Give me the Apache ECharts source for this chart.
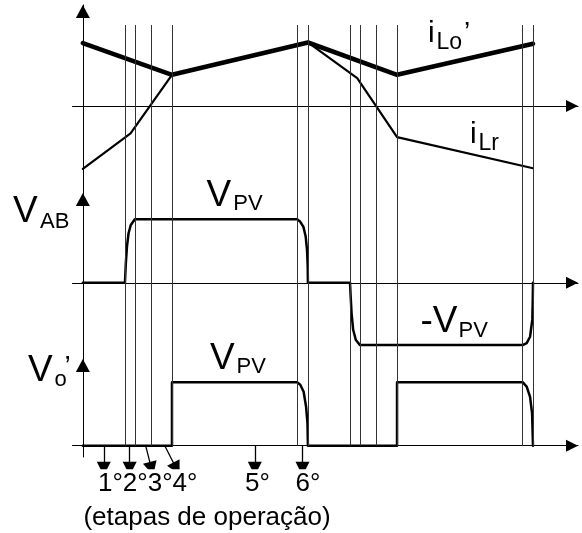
<!DOCTYPE html>
<html>
<head>
<meta charset="utf-8">
<script src="https://cdn.jsdelivr.net/npm/echarts@6/dist/echarts.min.js"></script>
<style>
  html, body { margin: 0; background: #fff; }
  #main { width: 582px; height: 533px; }
</style>
</head>
<body>
<div id="main"></div>
<script>
  // time in arbitrary units: 0 = origin, half switching period = 10
  var switchTimes = [1.87, 2.31, 3.05, 3.96, 9.54, 10.0, 11.87, 12.34, 13.04, 13.96, 19.54, 20.0];

  // currents (normalised)
  var iLo = [[0, 0.99], [3.96, 0.49], [10.0, 1.0], [13.96, 0.49], [20.0, 0.98]];
  var iLr = [[0, -0.99], [2.12, -0.43], [3.96, 0.49], [10.0, 1.0], [12.19, 0.44], [13.96, -0.49], [20.0, -0.98]];

  // V_AB (normalised to V_PV)
  var vAB = [
    [0, 0], [1.87, 0], [1.91, 0.31], [1.96, 0.57], [2.03, 0.78], [2.13, 0.91], [2.31, 1.0],
    [9.52, 1.0], [9.66, 0.96], [9.8, 0.88], [9.9, 0.73], [9.96, 0.52], [9.99, 0.26], [10.0, 0],
    [11.87, 0], [11.9, -0.22], [11.94, -0.48], [12.01, -0.74], [12.13, -0.9], [12.31, -0.98],
    [19.54, -0.98], [19.72, -0.95], [19.87, -0.85], [19.97, -0.58], [19.99, -0.27], [20.0, 0]
  ];

  // V_o' (normalised to V_PV)
  var vO = [
    [0, 0], [3.96, 0], [3.96, 1.0], [9.52, 1.0], [9.66, 0.96], [9.81, 0.85], [9.92, 0.61], [9.98, 0.35], [10.0, 0],
    [13.96, 0], [13.96, 1.0], [19.54, 1.0], [19.72, 0.93], [19.87, 0.77], [19.96, 0.51], [20.0, 0]
  ];

  // operation stage pointers
  var stageFrom = [0.93, 2.08, 2.79, 3.64, 7.64, 9.76];
  var stageTo = [0.93, 2.08, 3.05, 4.16, 7.64, 9.76];

  var X_MIN = -0.46, X_MAX = 22.0;
  var FONT = '"Liberation Sans", Arial, sans-serif';
  var axisStyle = {color: '#000', width: 1};

  function xAx(i, show) {
    return {
      gridIndex: i, type: 'value', min: X_MIN, max: X_MAX, show: show,
      axisLine: {onZero: true, symbol: ['none', 'triangle'], symbolSize: [12, 12], symbolOffset: [0, -6], lineStyle: axisStyle},
      axisTick: {show: false}, axisLabel: {show: false}, splitLine: {show: false}
    };
  }
  function yAx(i, min, max, show) {
    return {
      gridIndex: i, type: 'value', min: min, max: max, show: show,
      axisLine: {onZero: true, symbol: ['none', 'triangle'], symbolSize: [14, 13], symbolOffset: [0, -6.5], lineStyle: axisStyle},
      axisTick: {show: false}, axisLabel: {show: false}, splitLine: {show: false}
    };
  }
  function wave(i, data, width, z) {
    return {
      type: 'line', xAxisIndex: i, yAxisIndex: i, data: data, symbol: 'none', silent: true, z: z,
      lineStyle: {color: '#000', width: width, cap: 'round', join: 'round'}
    };
  }
  function txt(x, y, s, size, align) {
    return {
      type: 'text', x: x, y: y, silent: true,
      style: {text: s, font: size + 'px ' + FONT, fill: '#000', align: align || 'left', verticalAlign: 'middle'}
    };
  }

  var chart = echarts.init(document.getElementById('main'));
  chart.setOption({
    animation: false,
    backgroundColor: '#fff',
    grid: [
      {left: 72.5, width: 505.5, top: 5, height: 190},
      {left: 72.5, width: 505.5, top: 193, height: 166},
      {left: 72.5, width: 505.5, top: 359, height: 98},
      {left: 72.5, width: 505.5, top: 25, height: 420.7},
      {left: 72.5, width: 505.5, top: 445.7, height: 23}
    ],
    xAxis: [xAx(0, true), xAx(1, true), xAx(2, true), xAx(3, false), xAx(4, false)],
    yAxis: [
      yAx(0, -1.402, 1.59, true),
      yAx(1, -1.2, 1.414, true),
      yAx(2, -0.178, 1.365, true),
      yAx(3, 0, 1, false),
      yAx(4, 0, 1, false)
    ],
    series: [
      {
        type: 'line', xAxisIndex: 3, yAxisIndex: 3, data: [], z: 1,
        markLine: {
          silent: true, symbol: 'none', label: {show: false}, animation: false,
          lineStyle: {color: '#333', width: 1, type: 'solid'},
          data: switchTimes.map(function (t) { return {xAxis: t}; })
        }
      },
      wave(0, iLr, 2.2, 3),
      wave(0, iLo, 4.6, 4),
      wave(1, vAB, 2.5, 3),
      wave(2, vO, 2.5, 3),
      {
        type: 'lines', coordinateSystem: 'cartesian2d', xAxisIndex: 4, yAxisIndex: 4,
        symbol: ['none', 'triangle'], symbolSize: 14, silent: true, z: 3,
        lineStyle: {color: '#000', width: 1.3, opacity: 1},
        data: stageFrom.map(function (x, k) { return {coords: [[x, 1], [stageTo[k], 0]]}; })
      }
    ],
    graphic: [
      txt(428, 33.5, 'i', 30), txt(436.5, 42.5, 'Lo', 23), txt(464, 33, '’', 28),
      txt(470, 134.5, 'i', 30), txt(478.5, 143.5, 'Lr', 23),
      txt(13, 212.2, 'V', 37), txt(40, 222.3, 'AB', 22),
      txt(206.5, 195.5, 'V', 37), txt(233.3, 204, 'PV', 22),
      txt(420.5, 322.2, '-V', 37), txt(458.5, 331.3, 'PV', 22),
      txt(210, 358.9, 'V', 37), txt(236.5, 367.3, 'PV', 22),
      txt(28, 370.5, 'V', 37), txt(54.5, 380.3, 'o', 22), txt(64.5, 367, '’', 28),
      txt(98, 483.7, '1°2°3°4°', 26), txt(245, 483.7, '5°', 26), txt(295.5, 483.7, '6°', 26),
      txt(207, 517.6, '(etapas de operação)', 26, 'center')
    ]
  });
</script>
</body>
</html>
